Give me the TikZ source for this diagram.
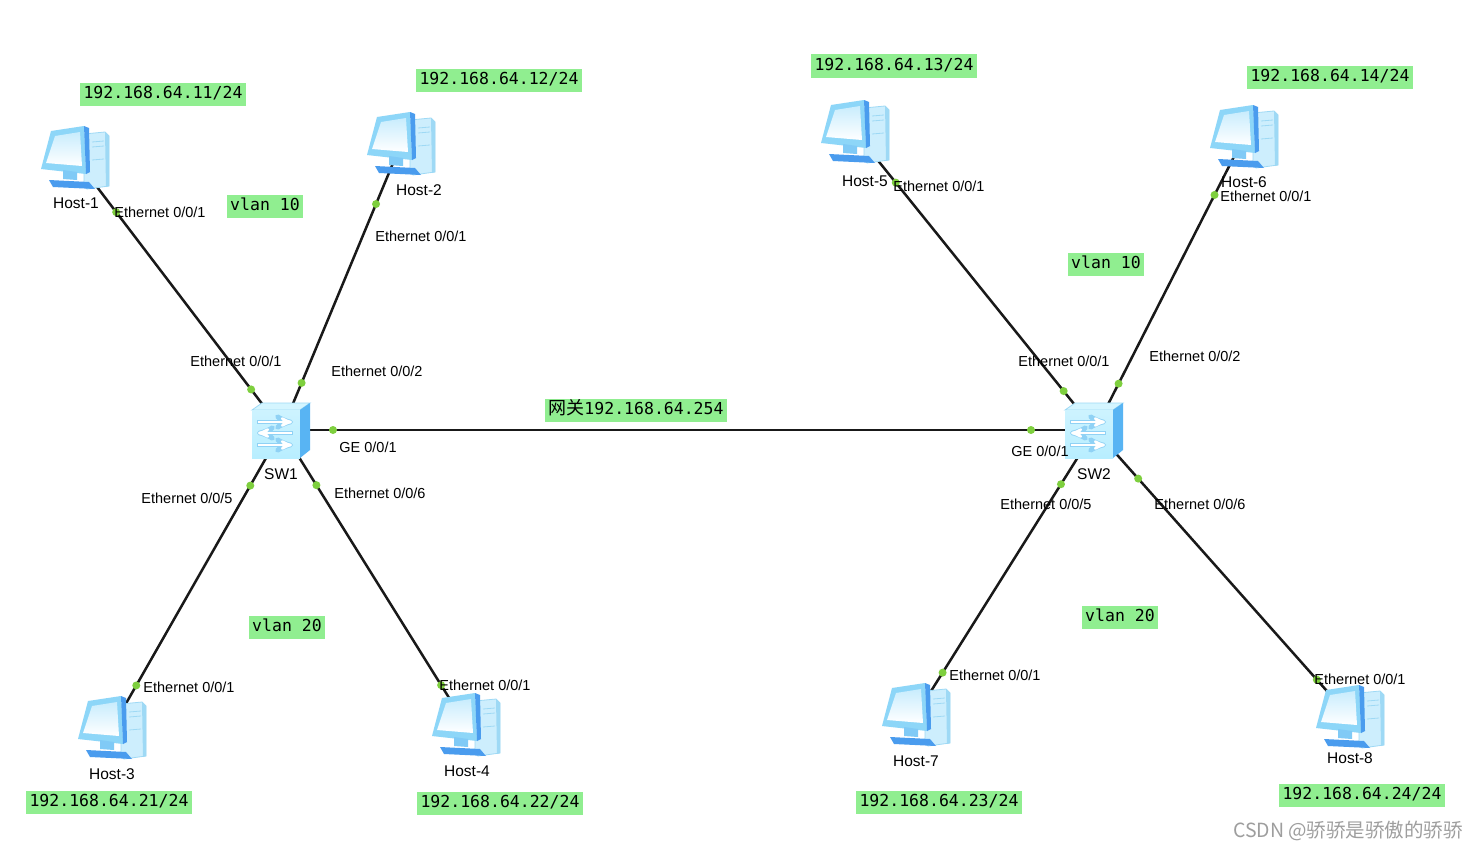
\documentclass[tikz,border=0pt]{standalone}
\usepackage{fontspec}
\setmainfont{Liberation Sans}
\newfontfamily\ipfont{DejaVu Sans Mono}
\newfontfamily\cjkfont{Noto Sans CJK SC}
\usetikzlibrary{arrows,calc,positioning}

\definecolor{boxgreen}{HTML}{90EE90}
\definecolor{portgreen}{HTML}{7ECF3E}
\definecolor{monblue}{HTML}{8DD6F8}
\definecolor{deepblue}{HTML}{4A9CEE}
\definecolor{screenblue}{HTML}{E2F6FF}
\definecolor{towerblue}{HTML}{CDEEFD}
\definecolor{edgeblue}{HTML}{9ED9F5}
\definecolor{swfront}{HTML}{B8EEFF}
\definecolor{swside}{HTML}{58B4F3}

\tikzset{
    host/.pic={
        % tower
        \filldraw[fill=towerblue, draw=edgeblue, line width=0.8pt]
            (9,-24) -- (30,-26) -- (34,-22) -- (34,28) -- (12,31) -- (9,27) -- cycle;
        \fill[edgeblue] (30,-26) -- (34,-22) -- (34,28) -- (31,29) -- cycle;
        \draw[edgeblue, line width=0.8pt] (17,-16) -- (29,-17) (17,-11) -- (29,-12) (17,2) -- (29,1);
        % monitor
        \fill[monblue] (-24,-27) -- (9,-32) -- (11,16) -- (-34,11) -- cycle;
        \fill[deepblue] (9,-32) -- (14,-30) -- (15,14) -- (11,16) -- cycle;
        \shade[bottom color=white, top color=screenblue!70!monblue]
            (-20,-22) -- (5,-26) -- (7,8) -- (-29,5) -- cycle;
        % stand
        \fill[monblue!80!deepblue] (-12,12) -- (2,14) -- (2,22) -- (-12,21) -- cycle;
        \fill[deepblue] (-26,22) -- (14,24) -- (20,31) -- (-22,29) -- cycle;
    },
    switch/.pic={
        \filldraw[fill=swfront!60!white, draw=edgeblue, line width=0.8pt]
            (-30,-20) -- (18,-20) -- (28,-27) -- (-20,-27) -- cycle;
        \shade[top color=swfront!70!white, bottom color=swfront] (-30,-20) rectangle (18,28);
        \fill[swside] (18,-20) -- (28,-27) -- (28,20) -- (18,28) -- cycle;
        \foreach \y/\tip in {-8/-stealth', 3/stealth'-, 15/-stealth'} {
            \draw[edgeblue!80!swside, line width=4.6pt, \tip] (-25,\y) -- (11,\y);
            \draw[white, line width=2.6pt, \tip] (-24,\y) -- (10,\y);
        }
    },
    dev/.style={inner sep=0pt, minimum size=0pt},
    link/.style={line width=2.5pt, color=black!90},
    portdot/.style={fill=portgreen},
    ethlabel/.style={inner sep=0pt, font=\fontsize{14.5}{17}\selectfont},
    hostlabel/.style={inner sep=0pt, font=\fontsize{15.5}{18}\selectfont},
    ipbox/.style={fill=boxgreen, inner xsep=3.5pt, inner ysep=4pt,
        text height=12pt, text depth=3pt, font=\ipfont\fontsize{16.5}{19}\selectfont}
}

\begin{document}
\begin{tikzpicture}[x=1pt, y=-1pt]
    \useasboundingbox[fill=white] (0,0) rectangle (1479,851);

    % devices
    \node[dev] (h1) at (75,158) {};
    \node[dev] (h2) at (401,144) {};
    \node[dev] (h3) at (112,728) {};
    \node[dev] (h4) at (466,725) {};
    \node[dev] (h5) at (855,132) {};
    \node[dev] (h6) at (1244,137) {};
    \node[dev] (h7) at (916,715) {};
    \node[dev] (h8) at (1350,717) {};
    \node[dev] (sw1) at (282,430) {};
    \node[dev] (sw2) at (1095,430) {};

    % links
    \foreach \h/\s/\dh/\ds in {h1/sw1/68/51, h2/sw1/65/51, h3/sw1/49/64, h4/sw1/47/65,
                              h5/sw2/65/50, h6/sw2/65/52, h7/sw2/50/64, h8/sw2/50/65} {
        \draw[link] (\h.center) -- (\s.center);
        \fill[portdot] ($(\h.center)!\dh pt!(\s.center)$) circle (4pt);
        \fill[portdot] ($(\s.center)!\ds pt!(\h.center)$) circle (4pt);
    }
    \draw[link] (sw1.center) -- (sw2.center);
    \fill[portdot] ($(sw1.center)!51pt!(sw2.center)$) circle (4pt);
    \fill[portdot] ($(sw2.center)!64pt!(sw1.center)$) circle (4pt);

    \foreach \h in {h1,h2,h3,h4,h5,h6,h7,h8}
        \pic at (\h) {host};
    \pic at (sw1) {switch};
    \pic at (sw2) {switch};

    % device names
    \node[hostlabel] (n1) at (76,203) {Host-1};
    \node[hostlabel] (n2) at (419,190) {Host-2};
    \node[hostlabel] (n3) at (112,774) {Host-3};
    \node[hostlabel] (n4) at (467,771) {Host-4};
    \node[hostlabel] (n5) at (865,181) {Host-5};
    \node[hostlabel] (n6) at (1244,182) {Host-6};
    \node[hostlabel] (n7) at (916,761) {Host-7};
    \node[hostlabel] (n8) at (1350,758) {Host-8};
    \node[hostlabel] (nsw1) at (281,474) {SW1};
    \node[hostlabel] (nsw2) at (1094,474) {SW2};

    % port names
    \node[ethlabel] (e11) at (160,212) {Ethernet 0/0/1};
    \node[ethlabel] (e21) at (421,236) {Ethernet 0/0/1};
    \node[ethlabel] (e31) at (189,687) {Ethernet 0/0/1};
    \node[ethlabel] (e41) at (485,685) {Ethernet 0/0/1};
    \node[ethlabel] (s11) at (236,361) {Ethernet 0/0/1};
    \node[ethlabel] (s12) at (377,371) {Ethernet 0/0/2};
    \node[ethlabel] (s1g) at (368,447) {GE 0/0/1};
    \node[ethlabel] (s15) at (187,498) {Ethernet 0/0/5};
    \node[ethlabel] (s16) at (380,493) {Ethernet 0/0/6};
    \node[ethlabel] (e51) at (939,186) {Ethernet 0/0/1};
    \node[ethlabel] (e61) at (1266,196) {Ethernet 0/0/1};
    \node[ethlabel] (e71) at (995,675) {Ethernet 0/0/1};
    \node[ethlabel] (e81) at (1360,679) {Ethernet 0/0/1};
    \node[ethlabel] (s21) at (1064,361) {Ethernet 0/0/1};
    \node[ethlabel] (s22) at (1195,356) {Ethernet 0/0/2};
    \node[ethlabel] (s2g) at (1040,451) {GE 0/0/1};
    \node[ethlabel] (s25) at (1046,504) {Ethernet 0/0/5};
    \node[ethlabel] (s26) at (1200,504) {Ethernet 0/0/6};

    % addresses and vlans
    \node[ipbox] (ip1) at (163,94) {192.168.64.11/24};
    \node[ipbox] (ip2) at (499,80) {192.168.64.12/24};
    \node[ipbox] (ip3) at (109,802) {192.168.64.21/24};
    \node[ipbox] (ip4) at (500,803) {192.168.64.22/24};
    \node[ipbox] (ip5) at (894,66) {192.168.64.13/24};
    \node[ipbox] (ip6) at (1330,77) {192.168.64.14/24};
    \node[ipbox] (ip7) at (939,802) {192.168.64.23/24};
    \node[ipbox] (ip8) at (1362,795) {192.168.64.24/24};
    \node[ipbox] (gw) at (636,410) {{\cjkfont\fontsize{18}{20}\selectfont 网关}192.168.64.254};
    \node[ipbox] (v1a) at (265,206) {vlan 10};
    \node[ipbox] (v1b) at (287,627) {vlan 20};
    \node[ipbox] (v2a) at (1106,264) {vlan 10};
    \node[ipbox] (v2b) at (1120,617) {vlan 20};

    \node[inner sep=0pt, text=black!38, font=\cjkfont\fontsize{19.5}{22}\selectfont] (mark) at (1348,831) {CSDN @骄骄是骄傲的骄骄};
\end{tikzpicture}
\end{document}
